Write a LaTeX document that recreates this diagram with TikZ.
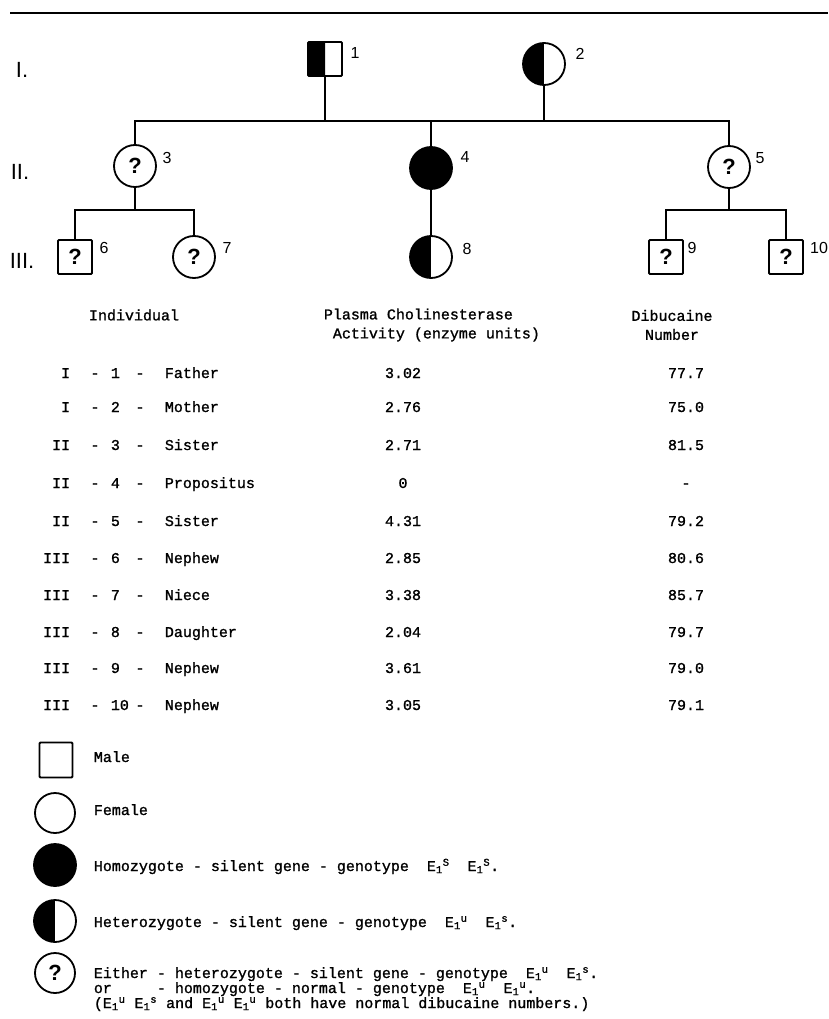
\documentclass[tikz,border=0pt]{standalone}
\usepackage{fontspec}
\setmainfont{Liberation Sans}
\newfontfamily\typew[FakeBold=1.2]{Liberation Mono}
\usetikzlibrary{positioning}

\tikzset{
  male/.style={draw, minimum size=34pt, inner sep=0pt, rounded corners=1pt},
  female/.style={circle, draw, minimum size=42pt, inner sep=0pt},
  halfblack/.style={path picture={\fill (path picture bounding box.south west) rectangle (path picture bounding box.north);}},
  allblack/.style={fill=black},
  unknown/.style={font=\fontsize{22}{22}\selectfont\bfseries},
  idnum/.style={font=\fontsize{16}{16}\selectfont, inner sep=0pt},
  gen/.style={font=\fontsize{22}{22}\selectfont, inner sep=0pt},
  tabtxt/.style={font=\typew\fontsize{15}{15}\selectfont, inner sep=0pt},
  tabhead/.style={tabtxt, font=\typew\fontsize{15}{19}\selectfont},
}
\newcommand{\allele}[1]{E\textsubscript{1}\textsuperscript{#1}}

\begin{document}
\begin{tikzpicture}[x=1pt, y=-1pt, line width=1.8pt]
    \useasboundingbox (0,0) rectangle (828,1019);
    \draw[line width=2pt] (10,13) -- (828,13);

    % generations
    \node[gen] (gI) at (22,70) {I.};
    \node[gen] (gII) at (20,172) {II.};
    \node[gen] (gIII) at (22,261) {III.};

    % pedigree
    \node[male, halfblack] (p1) at (325,59) {};
    \node[female, halfblack] (p2) at (544,64) {};
    \node[female, unknown] (p3) at (135,166) {?};
    \node[female, allblack] (p4) at (431,168) {};
    \node[female, unknown] (p5) at (729,167) {?};
    \node[male, unknown] (p6) at (75,257) {?};
    \node[female, unknown] (p7) at (194,257) {?};
    \node[female, halfblack] (p8) at (431,257) {};
    \node[male, unknown] (p9) at (666,257) {?};
    \node[male, unknown] (p10) at (786,257) {?};

    \node[idnum] (l1) at (355,53) {1};
    \node[idnum] (l2) at (580,54) {2};
    \node[idnum] (l3) at (167,158) {3};
    \node[idnum] (l4) at (465,157) {4};
    \node[idnum] (l5) at (760,158) {5};
    \node[idnum] (l6) at (104,248) {6};
    \node[idnum] (l7) at (227,248) {7};
    \node[idnum] (l8) at (467,249) {8};
    \node[idnum] (l9) at (692,248) {9};
    \node[idnum] (l10) at (819,248) {10};

    \coordinate (sib) at (0,121);
    \coordinate (sibL) at (0,210);
    \draw (p1) -- (p1 |- sib);
    \draw (p2) -- (p2 |- sib);
    \draw (p3) -- (p3 |- sib) -- (p5 |- sib) -- (p5);
    \draw (p4) -- (p4 |- sib);
    \draw (p3) -- (p3 |- sibL);
    \draw (p6) -- (p6 |- sibL) -- (p7 |- sibL) -- (p7);
    \draw (p4) -- (p8);
    \draw (p5) -- (p5 |- sibL);
    \draw (p9) -- (p9 |- sibL) -- (p10 |- sibL) -- (p10);

    % table
    \node[tabtxt] (hInd) at (134,315) {Individual};
    \node[tabhead, align=left, anchor=west] (hAct) at (323,325) {Plasma Cholinesterase\\\hspace{0.6em}Activity (enzyme units)};
    \node[tabhead, align=center] (hDib) at (672,325) {Dibucaine\\Number};

    \foreach \gn/\num/\rel/\act/\dib/\y [count=\r] in {I/1/Father/3.02/77.7/373, I/2/Mother/2.76/75.0/407,
        II/3/Sister/2.71/81.5/445, II/4/Propositus/0/-/483, II/5/Sister/4.31/79.2/521,
        III/6/Nephew/2.85/80.6/558, III/7/Niece/3.38/85.7/595, III/8/Daughter/2.04/79.7/632,
        III/9/Nephew/3.61/79.0/668, III/10/Nephew/3.05/79.1/705}{
      \node[tabtxt, anchor=base east] (g\r) at (71,\y+5) {\gn};
      \node[tabtxt, anchor=base] (da\r) at (95,\y+5) {-};
      \node[tabtxt, anchor=base west] (i\r) at (110,\y+5) {\num};
      \node[tabtxt, anchor=base] (db\r) at (140,\y+5) {-};
      \node[tabtxt, anchor=base west] (rel\r) at (164,\y+5) {\rel};
      \node[tabtxt, anchor=base] (act\r) at (403,\y+5) {\act};
      \node[tabtxt, anchor=base] (dib\r) at (686,\y+5) {\dib};
    }

    % key
    \node[male, minimum width=33pt, minimum height=35pt] (kMale) at (56,760) {};
    \node[female, minimum size=40pt] (kFemale) at (55,813) {};
    \node[female, allblack] (kHomo) at (55,865) {};
    \node[female, halfblack] (kHetero) at (55,921) {};
    \node[female, unknown, minimum size=40pt] (kEither) at (55,973) {?};

    \node[tabtxt, anchor=base west] (tMale) at (93,762) {Male};
    \node[tabtxt, anchor=base west] (tFemale) at (93,815) {Female};
    \node[tabtxt, anchor=base west] (tHomo) at (93,871) {Homozygote - silent gene - genotype~~\allele{S}~~\allele{S}.};
    \node[tabtxt, anchor=base west] (tHetero) at (93,927) {Heterozygote - silent gene - genotype~~\allele{u}~~\allele{s}.};
    \node[tabtxt, anchor=base west] (tEither) at (93,978) {Either - heterozygote - silent gene - genotype~~\allele{u}~~\allele{s}.};
    \node[tabtxt, anchor=base west] (tOr) at (93,993) {or\hphantom{ther} - homozygote - normal - genotype~~\allele{u}~~\allele{u}.};
    \node[tabtxt, anchor=base west] (tNote) at (93,1008) {(\allele{u}~\allele{s} and \allele{u}~\allele{u} both have normal dibucaine numbers.)};
\end{tikzpicture}
\end{document}
